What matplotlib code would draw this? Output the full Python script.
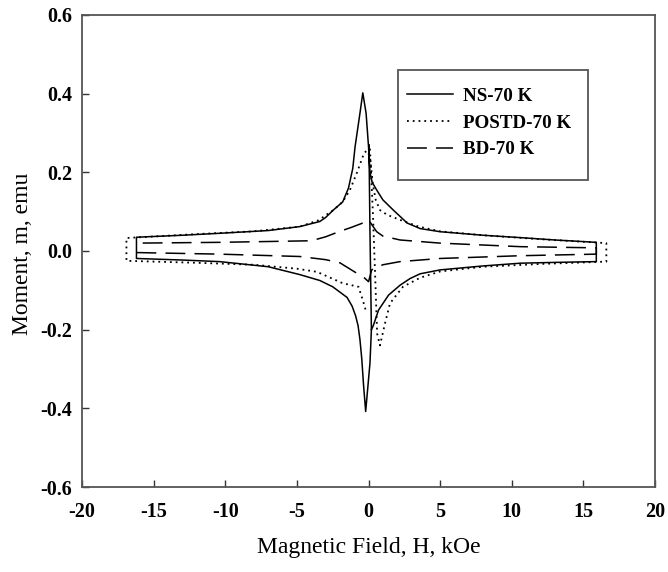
import matplotlib
matplotlib.use("Agg")
import matplotlib.pyplot as plt
from matplotlib.patches import Rectangle

# ---- data (field H in kOe, moment m in emu) ----
# NS-70 K : initial drop near H=0, lower branch to +H, end cap, upper branch to -H, end cap, lower branch back to 0
ns_H = [0.03, 0.1, 0.2, 0.33, 0.7, 1.4, 2.2, 2.9, 3.6, 5.0, 8.0, 10.6, 13.0, 15.9,
        15.9, 13.0, 10.6, 8.0, 5.0, 3.6, 2.7, 1.73, 1.0, 0.57, 0.25, 0.1, 0.0, -0.17, -0.4,
        -0.6, -0.94, -1.1, -1.4, -1.8, -2.46, -3.0, -3.4, -4.8, -7.0, -10.4, -13.0, -16.2,
        -16.2, -13.0, -10.4, -7.0, -4.8, -3.4, -2.5, -1.5, -1.15, -0.9, -0.73, -0.6, -0.47,
        -0.35, -0.2, 0.1, 0.2]
ns_m = [0.27, 0.05, -0.2, -0.19, -0.15, -0.112, -0.087, -0.07, -0.058, -0.048, -0.038, -0.031, -0.029, -0.027,
        0.022, 0.028, 0.034, 0.040, 0.049, 0.057, 0.071, 0.104, 0.13, 0.155, 0.175, 0.2, 0.265, 0.35, 0.402,
        0.35, 0.265, 0.21, 0.16, 0.125, 0.104, 0.085, 0.075, 0.062, 0.052, 0.045, 0.040, 0.035,
        -0.019, -0.023, -0.027, -0.040, -0.060, -0.075, -0.091, -0.118, -0.14, -0.165, -0.19, -0.225, -0.275,
        -0.34, -0.408, -0.285, -0.2]

# POSTD-70 K (dotted)
po_H = [0.1, 0.3, 0.45, 0.6, 0.8, 1.15, 1.5, 2.4, 3.6, 5.0, 8.0, 12.0, 16.6,
        16.6, 12.0, 8.0, 5.0, 3.5, 2.2, 1.3, 0.8, 0.5, 0.3, 0.1, -0.1, -0.3, -0.5, -0.8, -1.3,
        -1.8, -2.46, -3.5, -4.8, -8.0, -12.0, -16.9,
        -16.9, -12.0, -8.0, -5.0, -3.6, -1.8, -0.7, -0.4, -0.2]
po_m = [0.26, 0.1, -0.05, -0.21, -0.24, -0.184, -0.133, -0.091, -0.068, -0.052, -0.040, -0.033, -0.027,
        0.020, 0.030, 0.040, 0.050, 0.062, 0.079, 0.092, 0.104, 0.13, 0.17, 0.24, 0.255, 0.25, 0.23, 0.2, 0.155,
        0.125, 0.104, 0.078, 0.062, 0.050, 0.043, 0.033,
        -0.025, -0.030, -0.035, -0.045, -0.053, -0.082, -0.091, -0.125, -0.15]

# BD-70 K (dashed)
bd_H = [-16.2, -10.4, -4.8, -3.0, -2.0, -0.8, -0.3, 0.0, 0.22, 1.0, 2.2, 5.0, 10.6, 15.9,
        15.9, 10.6, 5.0, 2.2, 1.0, 0.57, 0.0, -0.48, -1.2, -2.0, -3.0, -4.0, -10.4, -16.2]
bd_m = [-0.004, -0.008, -0.014, -0.022, -0.030, -0.057, -0.068, -0.078, -0.048, -0.035, -0.027, -0.019, -0.012, -0.008,
        0.008, 0.011, 0.020, 0.028, 0.038, 0.049, 0.079, 0.070, 0.060, 0.050, 0.036, 0.026, 0.022, 0.020]

labels = ["NS-70 K", "POSTD-70 K", "BD-70 K"]
x_ticks = [-20, -15, -10, -5, 0, 5, 10, 15, 20]
y_ticks = [-0.6, -0.4, -0.2, 0.0, 0.2, 0.4, 0.6]

plt.rcParams['font.family'] = ['Liberation Serif', 'DejaVu Serif']

fig = plt.figure(figsize=(6.68, 5.72), dpi=100)
ax = fig.add_axes([0.1228, 0.1486, 0.8578, 0.8252])

ax.plot(ns_H, ns_m, color='black', lw=1.1, ls='-', label=labels[0])
ax.plot(po_H, po_m, color='black', lw=1.3, ls=(0, (1, 2.2)), label=labels[1])
ax.plot(bd_H, bd_m, color='black', lw=1.1, ls=(0, (13, 6)), label=labels[2])

ax.set_xlim(-20, 20)
ax.set_ylim(-0.6, 0.6)
ax.set_xticks(x_ticks)
ax.set_xticklabels([str(v) for v in x_ticks])
ax.set_yticks(y_ticks)
ax.set_yticklabels([f"{v:.1f}" for v in y_ticks])

for s in ax.spines.values():
    s.set_color('#555555')
    s.set_linewidth(1.3)

ax.tick_params(axis='both', direction='in', length=5, width=1, color='#333333',
               top=False, right=False, labelsize=14.5)
ax.tick_params(axis='x', pad=11)
ax.tick_params(axis='y', pad=7)
for t in ax.get_xticklabels() + ax.get_yticklabels():
    t.set_fontweight('bold')

ax.set_xlabel("Magnetic Field, H, kOe", fontsize=17, va='center')
ax.xaxis.set_label_coords(0.5, -0.129)
ax.set_ylabel("Moment, m, emu", fontsize=17, va='center')
ax.yaxis.set_label_coords(-0.1047, 0.4947)

# legend frame (box position) and content
ax.add_patch(Rectangle((0.5515, 0.6504), 0.8831 - 0.5515, 0.8835 - 0.6504, transform=ax.transAxes,
                       fill=True, facecolor='white', edgecolor='#555555', lw=1.3, zorder=4))
leg = ax.legend(loc='center', bbox_to_anchor=(0.7103, 0.7712), frameon=False,
                handlelength=2.4, handletextpad=0.55, labelspacing=0.5, borderpad=0,
                borderaxespad=0, prop={'weight': 'bold', 'size': 13.7})
leg.set_zorder(5)

fig.savefig("out.png", dpi=100)
